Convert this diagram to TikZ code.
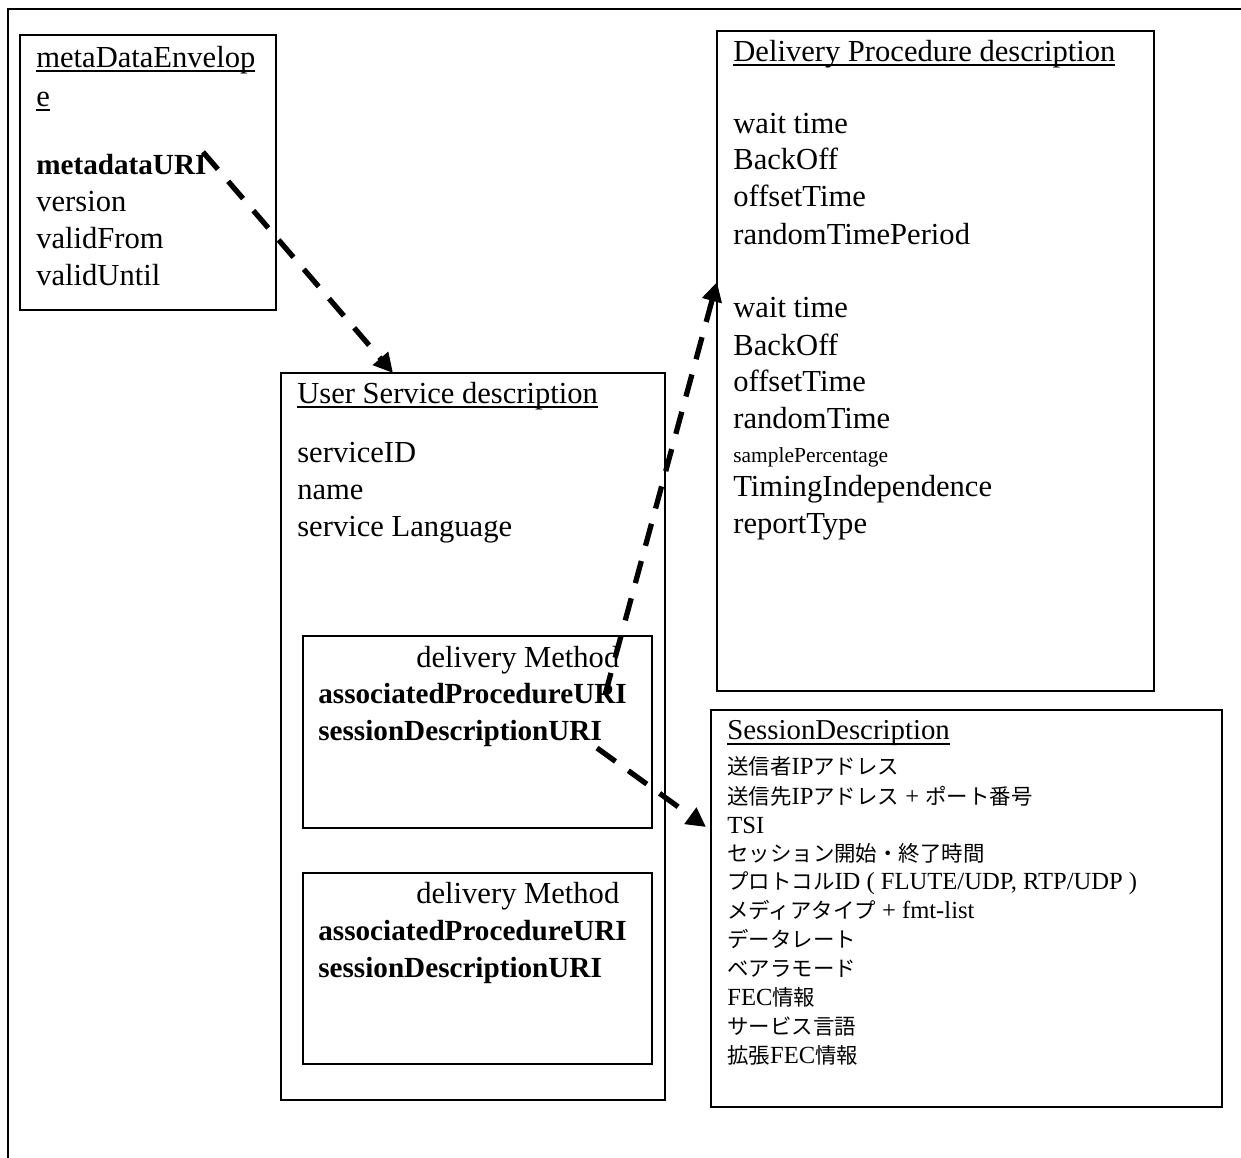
\documentclass[tikz,border=0pt]{standalone}
\usepackage{fontspec}
\setmainfont{Liberation Serif}
\newfontfamily\cjk{Noto Sans CJK JP}
\usetikzlibrary{arrows.meta}
\newcommand\szMain{\fontsize{17.4}{20}\selectfont}
\newcommand\szBold{\fontsize{16.6}{20}\selectfont\bfseries}
\newcommand\szSmall{\fontsize{12.2}{14}\selectfont}
\newcommand\szSd{\fontsize{14}{16}\selectfont}
\newcommand\jp[1]{{\cjk\fontsize{12.2}{14}\selectfont #1}}
\newcommand\ul[1]{\setbox0\hbox{#1}\rlap{\rule[-2.6pt]{\wd0}{1.1pt}}\box0}
\tikzset{
  frame/.style={line width=1pt},
  box/.style={draw, line width=1pt, inner sep=0pt, minimum width=#1},
  txt/.style={inner sep=0pt, anchor=mid west, font=\szMain, yshift=-3.3pt},
  btxt/.style={txt, font=\szBold},
  sdtxt/.style={inner sep=0pt, anchor=mid west, font=\szSd, yshift=-2.5pt},
  link/.style={line width=3pt, dash pattern=on 13pt off 9pt, -{Triangle[length=11pt,width=11pt]}}
}
\begin{document}
\begin{tikzpicture}[x=0.02cm, y=-0.02cm]
\useasboundingbox (0,0) rectangle (1241,1158);
% outer frame (only top and left edges visible)
\draw[frame] (8,1158) -- (8,9) -- (1241,9);

% boxes
\node[box=5.12cm, minimum height=5.5cm] (me) at (148,172.5) {};
\node[box=8.74cm, minimum height=13.2cm] (dp) at (935.5,361) {};
\node[box=7.68cm, minimum height=14.54cm] (us) at (473,736.5) {};
\node[box=6.98cm, minimum height=3.84cm] (dm1) at (477.5,732) {};
\node[box=6.98cm, minimum height=3.82cm] (dm2) at (477.5,968.5) {};
\node[box=10.22cm, minimum height=7.94cm] (sd) at (966.5,908.5) {};

% metaDataEnvelope
\node[txt] (me0) at (36,58) {\ul{metaDataEnvelop}};
\node[txt] (me1) at (36,97) {\ul{e}};
\node[btxt] (me2) at (36,165) {metadataURI};
\node[txt] (me3) at (36,202) {version};
\node[txt] (me4) at (36,239) {validFrom};
\node[txt] (me5) at (36,276) {validUntil};

% Delivery Procedure description
\node[txt] (dp0) at (733,52) {\ul{Delivery Procedure description}};
\node[txt] (dp1) at (733,124) {wait time};
\node[txt] (dp2) at (733,160) {BackOff};
\node[txt] (dp3) at (733,197) {offsetTime};
\node[txt] (dp4) at (733,235) {randomTimePeriod};
\node[txt] (dp5) at (733,308) {wait time};
\node[txt] (dp6) at (733,346) {BackOff};
\node[txt] (dp7) at (733,382) {offsetTime};
\node[txt] (dp8) at (733,419) {randomTime};
\node[txt, font=\szSmall] (dp9) at (733,453) {samplePercentage};
\node[txt] (dp10) at (733,487) {TimingIndependence};
\node[txt] (dp11) at (733,524) {reportType};

% User Service description
\node[txt] (us0) at (297,394) {\ul{User Service description}};
\node[txt] (us1) at (297,453) {serviceID};
\node[txt] (us2) at (297,490) {name};
\node[txt] (us3) at (297,527) {service Language};

% delivery Method 1
\node[txt] (dm1a) at (416,658) {delivery Method};
\node[btxt] (dm1b) at (318,694) {associatedProcedureURI};
\node[btxt] (dm1c) at (318,731) {sessionDescriptionURI};

% delivery Method 2
\node[txt] (dm2a) at (416,894) {delivery Method};
\node[btxt] (dm2b) at (318,931) {associatedProcedureURI};
\node[btxt] (dm2c) at (318,968) {sessionDescriptionURI};

% SessionDescription
\node[txt, font=\fontsize{16.4}{19}\selectfont, yshift=0.5pt] (sd0) at (727,731) {\ul{SessionDescription}};
\node[sdtxt] (sd1) at (727,766) {\jp{送信者}IP\jp{アドレス}};
\node[sdtxt] (sd2) at (727,796) {\jp{送信先}IP\jp{アドレス} + \jp{ポート番号}};
\node[sdtxt] (sd3) at (727,825) {TSI};
\node[sdtxt] (sd4) at (727,853) {\jp{セッション開始・終了時間}};
\node[sdtxt] (sd5) at (727,881) {\jp{プロトコル}ID ( FLUTE/UDP, RTP/UDP )};
\node[sdtxt] (sd6) at (727,910) {\jp{メディアタイプ} + fmt-list};
\node[sdtxt] (sd7) at (727,939) {\jp{データレート}};
\node[sdtxt] (sd8) at (727,968) {\jp{ベアラモード}};
\node[sdtxt] (sd9) at (727,997) {FEC\jp{情報}};
\node[sdtxt] (sd10) at (727,1026) {\jp{サービス言語}};
\node[sdtxt] (sd11) at (727,1055) {\jp{拡張}FEC\jp{情報}};

% connector end points
\coordinate (a1s) at (203,152);
\coordinate (a1e) at (393,373);
\coordinate (a2s) at (605,695);
\coordinate (a2e) at (717,282);
\coordinate (a3s) at (597,748);
\coordinate (a3e) at (706,827);

\draw[link] (a1s) -- (a1e);
\draw[link] (a2s) -- (a2e);
\draw[link] (a3s) -- (a3e);
\end{tikzpicture}
\end{document}
